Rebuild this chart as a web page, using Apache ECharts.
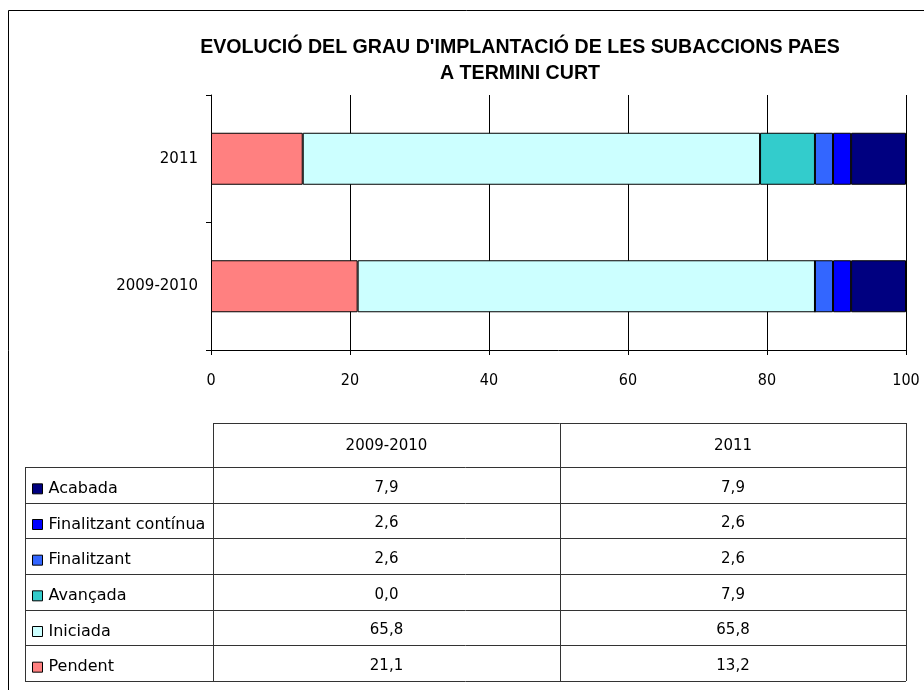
<!DOCTYPE html>
<html>
<head>
<meta charset="utf-8">
<title>Evolució subaccions PAES</title>
<script src="https://cdn.jsdelivr.net/npm/echarts@6/dist/echarts.min.js"></script>
<style>
  html, body { margin: 0; padding: 0; background: #fff; }
  #myChart { width: 924px; height: 690px; }
</style>
</head>
<body>
<div id="myChart"></div>
<script>
// categories de l'eix vertical i estats de les subaccions
var anys = ["2009-2010", "2011"];
var estats = ["Pendent", "Iniciada", "Avançada", "Finalitzant", "Finalitzant contínua", "Acabada"];

// valors (%) per any: [2009-2010, 2011]
var pendent = [21.1, 13.2];
var iniciada = [65.8, 65.8];
var avancada = [0.0, 7.9];
var finalitzant = [2.6, 2.6];
var finalitzantContinua = [2.6, 2.6];
var acabada = [7.9, 7.9];

// etiquetes de l'eix horitzontal
var xTicks = [0, 20, 40, 60, 80, 100];

var valors = [pendent, iniciada, avancada, finalitzant, finalitzantContinua, acabada];
var colors = ["#FF8080", "#CCFFFF", "#33CCCC", "#3366FF", "#0000FF", "#000080"];

var FONT = "DejaVu Sans";

function fmt(v) {
  return v.toFixed(1).replace(".", ",");
}

// series apilades
var series = estats.map(function (nom, i) {
  return {
    name: nom,
    type: "bar",
    stack: "total",
    barWidth: 52,
    data: valors[i],
    itemStyle: { color: colors[i], borderColor: "#000", borderWidth: 1 },
    emphasis: { disabled: true }
  };
});

// taula de dades (sota el grafic)
var tTop = 423, tHead = 467, tBottom = 681;
var xLab = 25, xC1 = 213, xC2 = 560, xR = 906;
var rowH = (tBottom - tHead) / estats.length;
var lineStyle = { stroke: "#333", lineWidth: 1 };
var graphics = [];

function hline(x1, x2, y) {
  y = Math.round(y) + 0.5;
  graphics.push({ type: "line", shape: { x1: x1, y1: y, x2: x2, y2: y }, style: lineStyle, silent: true });
}
function vline(x, y1, y2) {
  x = x + 0.5;
  graphics.push({ type: "line", shape: { x1: x, y1: y1, x2: x, y2: y2 }, style: lineStyle, silent: true });
}
function cell(txt, x, y) {
  graphics.push({
    type: "text", x: x, y: y, silent: true,
    style: { text: txt, fontFamily: FONT, fontSize: 15, fill: "#000", align: "center", verticalAlign: "middle" }
  });
}

// marc exterior (nomes esquerra i dalt)
graphics.push({
  type: "polyline", silent: true,
  shape: { points: [[8.5, 690], [8.5, 10.5], [924, 10.5]] },
  style: { stroke: "#000", lineWidth: 1, fill: null }
});

hline(xC1, xR, tTop);
for (var r = 0; r <= estats.length; r++) {
  hline(xLab, xR, tHead + r * rowH);
}
vline(xLab, tHead, tBottom);
vline(xC1, tTop, tBottom);
vline(xC2, tTop, tBottom);
vline(xR, tTop, tBottom);

var colX = [(xC1 + xC2) / 2, (xC2 + xR) / 2];
anys.forEach(function (a, j) {
  cell(a, colX[j], (tTop + tHead) / 2 + 1);
});
// files en ordre invers (Acabada a dalt)
var ordre = estats.slice().reverse();
ordre.forEach(function (nom, r) {
  var idx = estats.indexOf(nom);
  anys.forEach(function (a, j) {
    cell(fmt(valors[idx][j]), colX[j], tHead + (r + 0.5) * rowH + 3);
  });
});

var myChart = echarts.init(document.getElementById("myChart"));
myChart.setOption({
  animation: false,
  backgroundColor: "#fff",
  title: {
    text: "EVOLUCIÓ DEL GRAU D'IMPLANTACIÓ DE LES SUBACCIONS PAES\nA TERMINI CURT",
    left: 515,
    top: 30,
    textAlign: "center",
    textStyle: {
      fontFamily: "Liberation Sans",
      fontWeight: "bold",
      fontSize: 19.6,
      lineHeight: 26,
      color: "#000"
    }
  },
  legend: {
    data: ordre,
    orient: "vertical",
    left: 32,
    top: tHead + rowH / 2 - 10 + 4,
    padding: 0,
    icon: "rect",
    itemWidth: 10,
    itemHeight: 10,
    itemGap: rowH - 20,
    selectedMode: false,
    itemStyle: { borderColor: "#000", borderWidth: 1 },
    textStyle: { fontFamily: FONT, fontSize: 16, color: "#000", lineHeight: 20, padding: [0, 0, 0, 1] }
  },
  grid: { left: 211, right: 18, top: 95, bottom: 340, containLabel: false },
  xAxis: {
    type: "value",
    min: xTicks[0],
    max: xTicks[xTicks.length - 1],
    interval: xTicks[1] - xTicks[0],
    axisLine: { show: true, lineStyle: { color: "#000", width: 1 } },
    axisTick: { show: true, length: 5, lineStyle: { color: "#000" } },
    splitLine: { show: true, lineStyle: { color: "#000", width: 1 } },
    axisLabel: { margin: 23, color: "#000", fontFamily: "DejaVu Sans Condensed", fontSize: 16 }
  },
  yAxis: {
    type: "category",
    data: anys,
    axisLine: { show: true, lineStyle: { color: "#000", width: 1 } },
    axisTick: { show: true, length: 5, lineStyle: { color: "#000" } },
    splitLine: { show: false },
    axisLabel: { margin: 13, color: "#000", fontFamily: FONT, fontSize: 15 }
  },
  graphic: graphics,
  series: series
});
</script>
</body>
</html>
